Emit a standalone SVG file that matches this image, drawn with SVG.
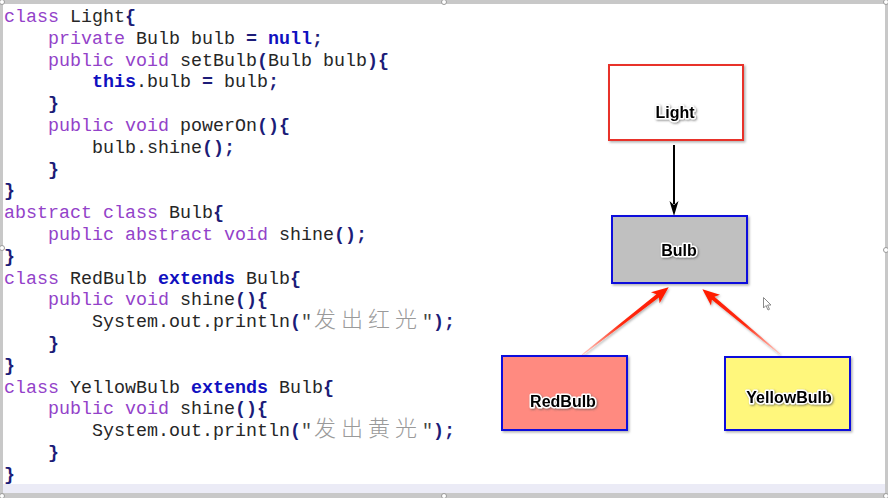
<svg xmlns="http://www.w3.org/2000/svg" width="888" height="498" viewBox="0 0 888 498">
<style>
.code{font-family:"Liberation Mono","Courier New",monospace;font-size:18.33px;fill:#262626;white-space:pre;}
.kw{fill:#9342c9;}
.kb{fill:#1010c0;font-weight:bold;}
.p{fill:#1c1c78;font-weight:bold;}
.s{fill:#444;}
.cjk{font-family:"Noto Sans CJK SC",sans-serif;font-size:22px;fill:#9a9a9a;font-weight:300;}
.lbl{font-family:"Liberation Sans",Arial,sans-serif;font-weight:bold;font-size:16px;fill:#000;stroke:#fff;stroke-width:3;stroke-linejoin:round;paint-order:stroke;text-anchor:middle;filter:url(#ts);}
.box{stroke-width:2;filter:url(#bs);}
.frame{fill:#c8c8c8;}
.handle{fill:#fff;stroke:#9a9a9a;stroke-width:1;}
</style>
<defs>
<filter id="ts" x="-20%" y="-40%" width="140%" height="180%">
<feDropShadow dx="1" dy="1" stdDeviation="1" flood-color="#555" flood-opacity="0.7"/>
</filter>
<filter id="bs" x="-10%" y="-10%" width="125%" height="130%">
<feDropShadow dx="1.5" dy="1.5" stdDeviation="1.2" flood-color="#000" flood-opacity="0.3"/>
</filter>
<filter id="as" x="-20%" y="-50%" width="140%" height="200%">
<feDropShadow dx="1" dy="1.5" stdDeviation="1" flood-color="#000" flood-opacity="0.3"/>
</filter>
<linearGradient id="rg" x1="0" y1="0" x2="1" y2="0">
<stop offset="0" stop-color="#ffd0c8"/>
<stop offset="0.45" stop-color="#ff2a10"/>
<stop offset="1" stop-color="#ff1a00"/>
</linearGradient>
</defs>
<rect x="0" y="0" width="888" height="498" fill="#fff"/>
<rect x="0" y="484" width="888" height="10" fill="#ebebf6"/>
<rect class="frame" x="0" y="0" width="888" height="4"/>
<rect class="frame" x="0" y="493" width="888" height="5"/>
<rect class="frame" x="0" y="0" width="3" height="498"/>
<rect class="frame" x="885" y="0" width="3" height="498"/>
<circle class="handle" cx="2" cy="2" r="2.5"/>
<circle class="handle" cx="444" cy="2" r="2.5"/>
<circle class="handle" cx="886" cy="2" r="2.5"/>
<circle class="handle" cx="2" cy="248" r="2.5"/>
<circle class="handle" cx="886" cy="250" r="2.5"/>
<circle class="handle" cx="2" cy="496" r="2.5"/>
<circle class="handle" cx="444" cy="496" r="2.5"/>
<circle class="handle" cx="886" cy="496" r="2.5"/>

<g id="code" class="code">
<text x="4" y="22"><tspan class="kw">class</tspan> Light<tspan class="p">{</tspan></text>
<text x="48" y="43.8"><tspan class="kw">private</tspan> Bulb bulb <tspan class="p">=</tspan> <tspan class="kb">null</tspan><tspan class="p">;</tspan></text>
<text x="48" y="65.6"><tspan class="kw">public</tspan> <tspan class="kw">void</tspan> setBulb<tspan class="p">(</tspan>Bulb bulb<tspan class="p">){</tspan></text>
<text x="92" y="87.4"><tspan class="kb">this</tspan>.bulb <tspan class="p">=</tspan> bulb<tspan class="p">;</tspan></text>
<text x="48" y="109.2"><tspan class="p">}</tspan></text>
<text x="48" y="131"><tspan class="kw">public</tspan> <tspan class="kw">void</tspan> powerOn<tspan class="p">(){</tspan></text>
<text x="92" y="152.8">bulb.shine<tspan class="p">();</tspan></text>
<text x="48" y="174.6"><tspan class="p">}</tspan></text>
<text x="4" y="196.4"><tspan class="p">}</tspan></text>
<text x="4" y="218.2"><tspan class="kw">abstract</tspan> <tspan class="kw">class</tspan> Bulb<tspan class="p">{</tspan></text>
<text x="48" y="240"><tspan class="kw">public</tspan> <tspan class="kw">abstract</tspan> <tspan class="kw">void</tspan> shine<tspan class="p">();</tspan></text>
<text x="4" y="261.8"><tspan class="p">}</tspan></text>
<text x="4" y="283.6"><tspan class="kw">class</tspan> RedBulb <tspan class="kb">extends</tspan> Bulb<tspan class="p">{</tspan></text>
<text x="48" y="305.4"><tspan class="kw">public</tspan> <tspan class="kw">void</tspan> shine<tspan class="p">(){</tspan></text>
<text x="92" y="327.2">System.out.println<tspan class="p">(</tspan><tspan class="s">"</tspan><tspan class="cjk" x="314">发</tspan><tspan class="cjk" x="341">出</tspan><tspan class="cjk" x="368">红</tspan><tspan class="cjk" x="395">光</tspan><tspan class="s" x="422">"</tspan><tspan class="p">);</tspan></text>
<text x="48" y="349"><tspan class="p">}</tspan></text>
<text x="4" y="370.8"><tspan class="p">}</tspan></text>
<text x="4" y="392.6"><tspan class="kw">class</tspan> YellowBulb <tspan class="kb">extends</tspan> Bulb<tspan class="p">{</tspan></text>
<text x="48" y="414.4"><tspan class="kw">public</tspan> <tspan class="kw">void</tspan> shine<tspan class="p">(){</tspan></text>
<text x="92" y="436.2">System.out.println<tspan class="p">(</tspan><tspan class="s">"</tspan><tspan class="cjk" x="314">发</tspan><tspan class="cjk" x="341">出</tspan><tspan class="cjk" x="368">黄</tspan><tspan class="cjk" x="395">光</tspan><tspan class="s" x="422">"</tspan><tspan class="p">);</tspan></text>
<text x="48" y="458"><tspan class="p">}</tspan></text>
<text x="4" y="479.8"><tspan class="p">}</tspan></text>
</g>

<g id="connectors">
<line x1="674" y1="145" x2="674" y2="204" stroke="#000" stroke-width="2"/>
<path d="M669.5,201 L674,205 L678.5,201 L674,216 Z" fill="#000"/>
<g filter="url(#as)">
<path transform="translate(582,355) rotate(-38)" d="M0,-0.5 L96,-2 L93,-7 L110,0 L93,7 L96,2 L0,0.5 Z" fill="url(#rg)"/>
<path transform="translate(780,354) rotate(-140.2)" d="M0,-0.5 L87,-2 L84,-7 L101,0 L84,7 L87,2 L0,0.5 Z" fill="url(#rg)"/>
</g>
</g>

<g id="Light">
<rect class="box" x="609" y="65" width="134" height="75" fill="#fff" stroke="#e8322a"/>
<text class="lbl" x="675" y="118">Light</text>
</g>
<g id="Bulb">
<rect class="box" x="612" y="216" width="135" height="67" fill="#c0c0c0" stroke="#0a0adc"/>
<text class="lbl" x="679" y="256">Bulb</text>
</g>
<g id="RedBulb">
<rect class="box" x="502" y="356" width="125" height="74" fill="#ff8a80" stroke="#0a0adc"/>
<text class="lbl" x="563" y="407">RedBulb</text>
</g>
<g id="YellowBulb">
<rect class="box" x="725" y="357" width="125" height="73" fill="#fff77c" stroke="#0a0adc"/>
<text class="lbl" x="789" y="403">YellowBulb</text>
</g>

<path d="M763.5,297.5 L763.5,308 L766,305.5 L768,310 L769.5,309.3 L767.6,305 L771,305 Z" fill="#fff" stroke="#8a8a8a" stroke-width="1" stroke-linejoin="round"/>
</svg>
